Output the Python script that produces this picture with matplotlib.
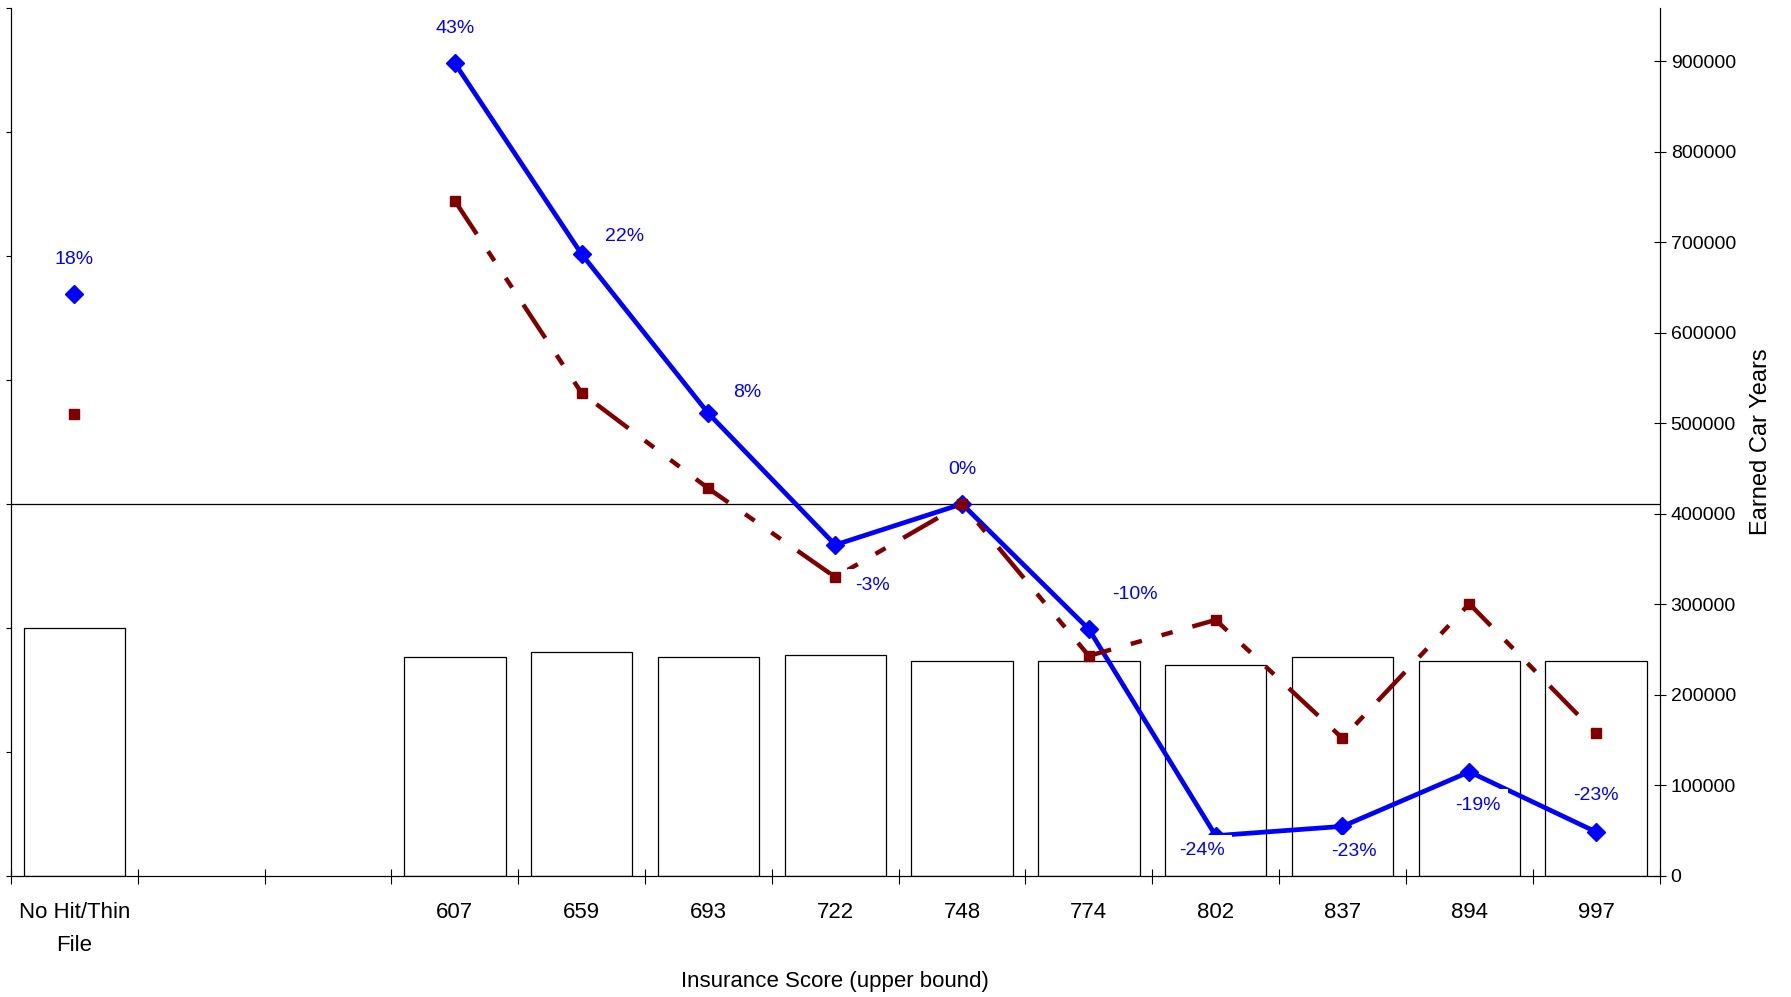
import numpy as np
import matplotlib.pyplot as plt
from matplotlib.ticker import NullFormatter

plt.rcParams['font.family'] = ['Liberation Sans', 'DejaVu Sans']

categories = ["No Hit/Thin\nFile", "", "", "607", "659", "693", "722",
              "748", "774", "802", "837", "894", "997"]
earned_car_years = [273600, np.nan, np.nan, 242000, 248000, 242000, 244000,
                    237000, 237000, 233000, 242000, 237000, 237000]
blue_rel = [1.339, np.nan, np.nan, 1.711, 1.403, 1.146, 0.934,
            1.000, 0.798, 0.465, 0.480, 0.568, 0.471]
red_rel = [1.145, np.nan, np.nan, 1.489, 1.179, 1.025, 0.882,
           1.000, 0.755, 0.813, 0.622, 0.839, 0.630]
pct_labels = ["18%", "", "", "43%", "22%", "8%", "-3%",
              "0%", "-10%", "-24%", "-23%", "-19%", "-23%"]
# label offsets in points from the blue marker
label_offsets = [(0, 25), None, None, (0, 25), (31, 13), (28, 15), (27, -29),
                 (0, 25), (33, 25), (-10, -11), (8, -18), (6, -24), (0, 26)]

x = np.arange(len(categories))

fig = plt.figure(figsize=(17.91, 9.97), dpi=100)
ax = fig.add_axes([0.0061, 0.1214, 0.9205, 0.8706])
ax2 = ax.twinx()

# bars on the right axis
bars = np.array(earned_car_years)
ok = ~np.isnan(bars)
ax.bar(x[ok], bars[ok], width=0.80, color='white', edgecolor='black', linewidth=0.9)
ax.set_ylim(0, 959000)
ax.yaxis.tick_right()
ax.yaxis.set_label_position('right')
ax.set_yticks(range(0, 900001, 100000))
ax.tick_params(axis='y', direction='inout', length=8, width=0.8, labelsize=14, pad=4)
ax.set_ylabel('Earned Car Years', fontsize=17, labelpad=10)

# relativity lines on the left (unlabelled) axis
ax2.yaxis.tick_left()
ax2.axhline(1.0, color='black', lw=0.9, zorder=1)
ax2.plot(x, blue_rel, color='#0000FF', lw=3.4, marker='D', ms=9,
         mec='#0000FF', mew=1, zorder=2)
ax2.plot(x, red_rel, color='#800000', lw=3.2, dashes=(9, 4.6, 2.6, 4.6, 2.6, 4.6),
         marker='s', ms=7, mec='#800000', zorder=3)
ax2.set_ylim(0.4, 1.8)
ax2.set_yticks(np.arange(0.4, 1.81, 0.2))
ax2.yaxis.set_major_formatter(NullFormatter())
ax2.tick_params(axis='y', direction='out', length=3.6, width=0.8)

for xi, yi, txt, off in zip(x, blue_rel, pct_labels, label_offsets):
    if txt:
        ax2.annotate(txt, (xi, yi), xytext=off, textcoords='offset points',
                     ha='center', va='center', fontsize=14, color='#0000FF',
                     bbox=dict(boxstyle='square,pad=0.4', fc='white', ec='none'),
                     zorder=5)

# x axis: ticks between categories, labels at centers
ax.set_xlim(-0.5, len(categories) - 0.5)
ax.set_xticks(np.arange(-0.5, len(categories), 1))
ax.set_xticklabels([])
ax.set_xticks(x, minor=True)
ax.set_xticklabels(categories, minor=True, fontsize=16, linespacing=1.75)
ax.tick_params(axis='x', which='major', direction='inout', length=10.8, width=0.8)
ax.tick_params(axis='x', which='minor', length=0, pad=18.5)
ax.set_xlabel('Insurance Score (upper bound)', fontsize=16, labelpad=11)

for a in (ax, ax2):
    a.spines['top'].set_visible(False)
    for s in ('left', 'right', 'bottom'):
        a.spines[s].set_linewidth(0.8)

fig.savefig('out.png', dpi=100)
